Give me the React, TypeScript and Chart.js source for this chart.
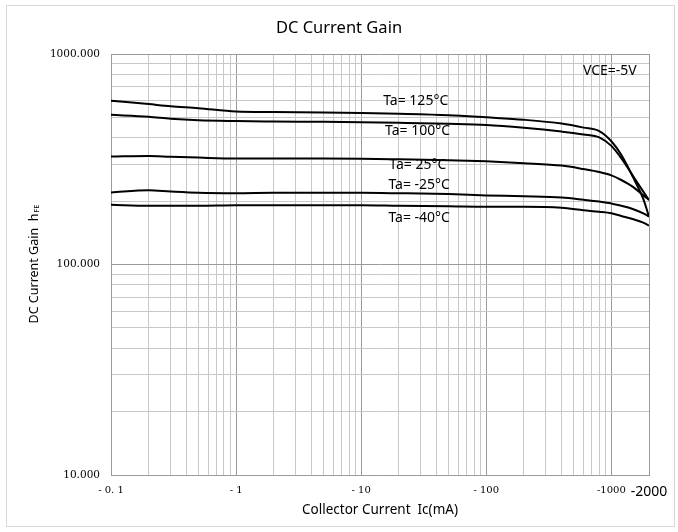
import React, { useEffect, useRef } from 'react';
import { Chart, registerables } from 'chart.js';

Chart.register(...registerables);

// Collector current (mA, magnitude) sample points
const currentMA = [0.1, 0.2, 0.3, 0.5, 1, 2, 5, 10, 20, 50, 100, 200, 400, 600, 800, 1000, 1200, 1500, 1800, 2000];

// DC current gain hFE for each ambient temperature
const gain125 = [600, 578, 565, 553, 533, 530, 527, 524, 520, 512, 500, 487, 467, 447, 430, 385, 332, 258, 205, 169];
const gain100 = [514, 503, 492, 484, 480, 478, 476, 474, 471, 466, 460, 446, 428, 415, 402, 366, 320, 262, 222, 202];
const gain25 = [326, 328, 325, 322, 319, 319, 319, 318, 316, 313, 309, 303, 295, 284, 275, 265, 252, 233, 213, 203];
const gainM25 = [220, 225, 222, 219, 218, 219, 219, 219, 218, 216, 213, 211, 208, 203, 199, 195, 190, 183, 175, 169];
const gainM40 = [192, 190, 190, 190, 191, 191, 191, 191, 190, 189, 188, 188, 186, 181, 178, 175, 170, 164, 158, 153];

const seriesNames = ['Ta= 125°C', 'Ta= 100°C', 'Ta= 25°C', 'Ta= -25°C', 'Ta= -40°C'];
const seriesValues = [gain125, gain100, gain25, gainM25, gainM40];

// Curve label anchors (data coordinates: mA, hFE)
const labelX = [15, 15.5, 16.8, 16.5, 16.5];
const labelY = [599, 430, 298, 239, 167];
const noteText = 'VCE=-5V';
const noteX = 593;
const noteY = 826;

// Axis tick labels
const xLabelValues = [0.1, 1, 10, 100, 1000, 2000];
const xLabelTexts = ['- 0. 1', '- 1', '- 10', '- 100', '-1000', '-2000'];
const yLabelValues = [10, 100, 1000];
const yLabelTexts = ['10.000', '100.000', '1000.000'];

const xDecades = [0.1, 1, 10, 100, 1000];
const yDecades = [10, 100];
const xMin = 0.1;
const xMax = 2000;
const yMin = 10;
const yMax = 1000;

const xGrid: number[] = [];
xDecades.forEach((d) => {
  for (let m = 1; m <= 9; m++) {
    const v = Math.round(d * m * 1000) / 1000;
    if (v < xMax) xGrid.push(v);
  }
});
xGrid.push(xMax);
const yGrid: number[] = [];
yDecades.forEach((d) => {
  for (let m = 1; m <= 9; m++) yGrid.push(d * m);
});
yGrid.push(yMax);

const SANS = '"Noto Sans", "Open Sans", sans-serif';
const SERIF = '"DejaVu Serif", "Liberation Serif", serif';

const isMajor = (v: number) => {
  const l = Math.log10(v);
  return Math.abs(l - Math.round(l)) < 1e-6;
};

const decorPlugin = {
  id: 'decor',
  beforeDraw(chart: any) {
    const ctx = chart.ctx;
    ctx.save();
    ctx.fillStyle = '#ffffff';
    ctx.fillRect(0, 0, chart.width, chart.height);
    ctx.strokeStyle = '#d9d9d9';
    ctx.lineWidth = 1;
    ctx.strokeRect(6.5, 5.5, 668, 521);
    ctx.restore();
  },
  afterDraw(chart: any) {
    const ctx = chart.ctx;
    const xs = chart.scales.x;
    const ys = chart.scales.y;
    const area = chart.chartArea;
    ctx.save();
    ctx.fillStyle = '#000';
    // Title
    ctx.font = `16.5px ${SANS}`;
    ctx.textAlign = 'center';
    ctx.textBaseline = 'middle';
    ctx.fillText('DC Current Gain', chart.width / 2, 28);
    // X axis title
    ctx.font = `13.5px ${SANS}`;
    ctx.fillText('Collector Current  Ic(mA)', (area.left + area.right) / 2, 510);
    // Y axis title with subscript
    ctx.save();
    ctx.translate(34, (area.top + area.bottom) / 2);
    ctx.rotate(-Math.PI / 2);
    const main = 'DC Current Gain  h';
    ctx.font = `12.5px ${SANS}`;
    const w1 = ctx.measureText(main).width;
    ctx.font = `7.5px ${SANS}`;
    const w2 = ctx.measureText('FE').width;
    const start = -(w1 + w2) / 2;
    ctx.textAlign = 'left';
    ctx.font = `12.5px ${SANS}`;
    ctx.fillText(main, start, 0);
    ctx.font = `7.5px ${SANS}`;
    ctx.fillText('FE', start + w1 + 1, 3);
    ctx.restore();
    // Curve labels
    ctx.font = `14px ${SANS}`;
    ctx.textAlign = 'left';
    ctx.textBaseline = 'middle';
    seriesNames.forEach((name, i) => {
      ctx.fillText(name, xs.getPixelForValue(labelX[i]), ys.getPixelForValue(labelY[i]));
    });
    ctx.fillText(noteText, xs.getPixelForValue(noteX), ys.getPixelForValue(noteY));
    ctx.restore();
  },
};

export default function App() {
  const canvasRef = useRef<HTMLCanvasElement | null>(null);

  useEffect(() => {
    const canvas = canvasRef.current;
    if (!canvas) return;
    const datasets = seriesValues.map((vals, i) => ({
      label: seriesNames[i],
      data: currentMA.map((x, j) => ({ x, y: vals[j] })),
      borderColor: '#000000',
      borderWidth: 2,
      pointRadius: 0,
      fill: false,
      cubicInterpolationMode: 'monotone' as const,
    }));
    const chart = new Chart(canvas, {
      type: 'line',
      data: { datasets },
      options: {
        responsive: false,
        animation: false,
        devicePixelRatio: 1,
        layout: { padding: { left: 0, top: 54, right: 29, bottom: 0 } },
        plugins: {
          legend: { display: false },
          title: { display: false },
          tooltip: { enabled: false },
        },
        scales: {
          x: {
            type: 'logarithmic',
            min: xMin,
            max: xMax,
            afterBuildTicks: (scale: any) => {
              scale.ticks = xGrid.map((v) => ({ value: v, major: isMajor(v) }));
            },
            afterFit: (scale: any) => {
              scale.height = 57;
            },
            grid: {
              drawTicks: false,
              lineWidth: 1,
              color: (c: any) => {
                const v = c.tick ? c.tick.value : 0;
                return isMajor(v) || v === xMax ? '#9a9a9a' : '#c8c8c8';
              },
            },
            border: { display: true, color: '#9a9a9a' },
            ticks: {
              autoSkip: false,
              maxRotation: 0,
              minRotation: 0,
              padding: 9,
              color: '#000',
              font: (c: any) =>
                c.tick && c.tick.value === 2000
                  ? { family: SANS, size: 14 }
                  : { family: SERIF, size: 10 },
              callback: (value: any) => {
                const idx = xLabelValues.findIndex((v) => Math.abs(v - Number(value)) < 1e-9);
                return idx >= 0 ? xLabelTexts[idx] : '';
              },
            },
          },
          y: {
            type: 'logarithmic',
            min: yMin,
            max: yMax,
            afterBuildTicks: (scale: any) => {
              scale.ticks = yGrid.map((v) => ({ value: v, major: isMajor(v) }));
            },
            afterFit: (scale: any) => {
              scale.width = 111;
            },
            grid: {
              drawTicks: false,
              lineWidth: 1,
              color: (c: any) => {
                const v = c.tick ? c.tick.value : 0;
                return isMajor(v) ? '#9a9a9a' : '#c8c8c8';
              },
            },
            border: { display: true, color: '#9a9a9a' },
            ticks: {
              autoSkip: false,
              padding: 11,
              color: '#000',
              font: { family: SERIF, size: 10.5 },
              callback: (value: any) => {
                const idx = yLabelValues.findIndex((v) => Math.abs(v - Number(value)) < 1e-9);
                return idx >= 0 ? yLabelTexts[idx] : '';
              },
            },
          },
        },
      },
      plugins: [decorPlugin],
    });
    return () => chart.destroy();
  }, []);

  return (
    <div style={{ position: 'absolute', left: 0, top: 0, width: 678, height: 532, background: '#fff' }}>
      <canvas ref={canvasRef} width={678} height={532} style={{ display: 'block', width: 678, height: 532 }} />
    </div>
  );
}
